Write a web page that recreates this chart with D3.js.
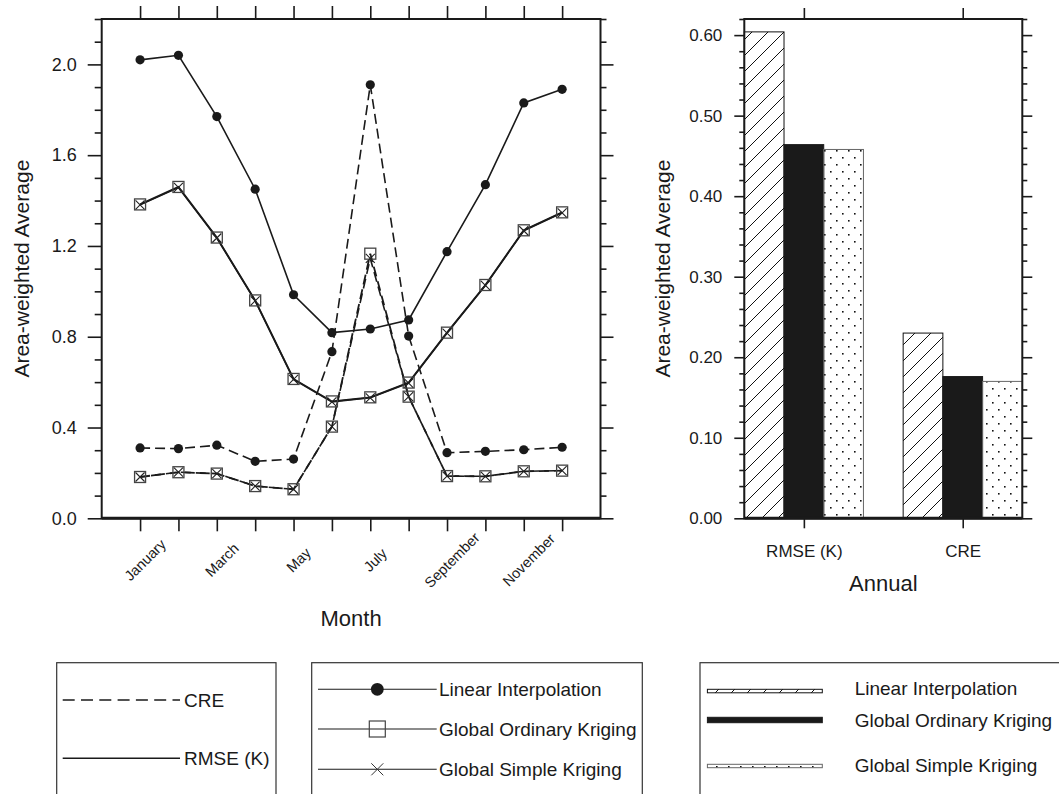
<!DOCTYPE html>
<html><head><meta charset="utf-8">
<script src="https://cdn.jsdelivr.net/npm/d3@7"></script>
<style>
body{margin:0;background:#fff}
text{font-family:"Liberation Sans",Arial,Helvetica,sans-serif;fill:#1a1a1a}
</style>
</head><body>
<svg id="c" width="1059" height="794"></svg>
<script>
// ---------- data ----------
const months = ["January","February","March","April","May","June","July","August","September","October","November","December"];
const liRMSE = [2.02, 2.04, 1.77, 1.45, 0.985, 0.818, 0.834, 0.874, 1.175, 1.47, 1.83, 1.89];
const okRMSE = [1.383, 1.46, 1.237, 0.96, 0.614, 0.515, 0.533, 0.598, 0.818, 1.028, 1.269, 1.348];
const skRMSE = [1.381, 1.458, 1.235, 0.958, 0.612, 0.513, 0.531, 0.596, 0.816, 1.026, 1.267, 1.346];
const liCRE  = [0.31, 0.307, 0.322, 0.251, 0.261, 0.734, 1.91, 0.803, 0.289, 0.295, 0.302, 0.313];
const okCRE  = [0.182, 0.203, 0.197, 0.142, 0.128, 0.404, 1.166, 0.536, 0.186, 0.185, 0.207, 0.21];
const skCRE  = [0.182, 0.203, 0.197, 0.142, 0.128, 0.404, 1.145, 0.536, 0.186, 0.185, 0.207, 0.21];
const leftTicks = [0, 0.4, 0.8, 1.2, 1.6, 2.0];

const barCategories = ["RMSE (K)", "CRE"];
const methods = ["Linear Interpolation", "Global Ordinary Kriging", "Global Simple Kriging"];
const annualRMSE = [0.604, 0.464, 0.458];
const annualCRE  = [0.230, 0.176, 0.170];
const rightTicks = [0, 0.1, 0.2, 0.3, 0.4, 0.5, 0.6];
const metricLegend = ["CRE", "RMSE (K)"];

// ---------- setup ----------
const svg = d3.select("#c");
const ink = "#1a1a1a";
const defs = svg.append("defs");
const hatch = defs.append("pattern").attr("id","hatch").attr("patternUnits","userSpaceOnUse")
  .attr("width",16).attr("height",16);
hatch.append("path").attr("d","M-4,4 L4,-4 M0,16 L16,0 M12,20 L20,12")
  .attr("stroke","#111").attr("stroke-width",1);
const dots = defs.append("pattern").attr("id","dots").attr("patternUnits","userSpaceOnUse")
  .attr("width",12).attr("height",14);
dots.append("rect").attr("x",2).attr("y",3).attr("width",1.6).attr("height",1.6).attr("fill","#111");
dots.append("rect").attr("x",8).attr("y",10).attr("width",1.6).attr("height",1.6).attr("fill","#111");

function styleAxis(g){
  g.select(".domain").remove();
  g.selectAll(".tick line").attr("stroke",ink).attr("stroke-width",1.6);
  g.selectAll(".tick text").attr("fill",ink).style("font-family",'"Liberation Sans",Arial,sans-serif');
}
function minorsOf(step, max, majorStep){
  const out=[];
  for(let i=1;i*step<=max+1e-9;i++){
    const v=+(i*step).toFixed(4);
    if(Math.abs(v/majorStep - Math.round(v/majorStep))>1e-6) out.push(v);
  }
  return out;
}

// ---------- left chart ----------
const L = {x0:101.7, x1:600.5, y0:19, y1:518.3};
const x = d3.scaleLinear().domain([0,13]).range([L.x0, L.x1]);
const y = d3.scaleLinear().domain([0,2.2]).range([L.y1, L.y0]);
const lg = svg.append("g");
const monthIdx = d3.range(1,13);

lg.append("g").attr("transform",`translate(${L.x0},0)`)
  .call(d3.axisLeft(y).tickValues(leftTicks).tickSize(14).tickPadding(11).tickFormat(d3.format(".1f")))
  .call(styleAxis).call(g=>g.selectAll(".tick text").attr("font-size",18));
lg.append("g").attr("transform",`translate(${L.x0},0)`)
  .call(d3.axisLeft(y).tickValues(minorsOf(0.1,2.2,0.4)).tickSize(7).tickFormat(""))
  .call(styleAxis);
lg.append("g").attr("transform",`translate(${L.x1},0)`)
  .call(d3.axisRight(y).tickValues(leftTicks).tickSize(13).tickFormat(""))
  .call(styleAxis);
lg.append("g").attr("transform",`translate(${L.x1},0)`)
  .call(d3.axisRight(y).tickValues(minorsOf(0.1,2.2,0.4)).tickSize(6).tickFormat(""))
  .call(styleAxis);
lg.append("g").attr("transform",`translate(0,${L.y0})`)
  .call(d3.axisTop(x).tickValues(monthIdx).tickSize(13).tickFormat(""))
  .call(styleAxis);
lg.append("g").attr("transform",`translate(0,${L.y1})`)
  .call(d3.axisBottom(x).tickValues(monthIdx).tickSize(13).tickFormat(""))
  .call(styleAxis);

// month labels (every other)
lg.selectAll("text.mon").data(monthIdx.filter(m=>m%2===1)).join("text")
  .attr("class","mon").attr("font-size",14.5).attr("text-anchor","middle").attr("dy","0.35em")
  .attr("transform",m=>`translate(${x(m)+5},560) rotate(-45)`)
  .text(m=>months[m-1]);

// frame
lg.append("rect").attr("x",L.x0).attr("y",L.y0).attr("width",L.x1-L.x0).attr("height",L.y1-L.y0)
  .attr("fill","none").attr("stroke",ink).attr("stroke-width",2);
lg.append("line").attr("x1",L.x0).attr("x2",L.x1).attr("y1",L.y1).attr("y2",L.y1)
  .attr("stroke",ink).attr("stroke-width",3);

// series
const line = d3.line().x((d,i)=>x(i+1)).y(d=>y(d));
const series = [
  {v:liRMSE, dash:null, w:1.6},
  {v:okRMSE, dash:null, w:1.8},
  {v:skRMSE, dash:null, w:1.6},
  {v:liCRE, dash:"10,5", w:1.6},
  {v:okCRE, dash:"10,5", w:1.8},
  {v:skCRE, dash:"10,5", w:1.6, off:4},
];
series.forEach(s=>{
  lg.append("path").attr("d",line(s.v)).attr("fill","none").attr("stroke",ink)
    .attr("stroke-width",s.w).attr("stroke-dasharray",s.dash).attr("stroke-dashoffset",s.off||0);
});
[liRMSE, liCRE].forEach(arr=>{
  lg.selectAll(null).data(arr).join("circle")
    .attr("cx",(d,i)=>x(i+1)).attr("cy",d=>y(d)).attr("r",4.6).attr("fill",ink);
});
[okRMSE, okCRE].forEach(arr=>{
  lg.selectAll(null).data(arr).join("rect")
    .attr("x",(d,i)=>x(i+1)-5.5).attr("y",d=>y(d)-5.5).attr("width",11).attr("height",11)
    .attr("fill","none").attr("stroke","#444").attr("stroke-width",1.3);
});
[skRMSE, skCRE].forEach(arr=>{
  lg.selectAll(null).data(arr).join("path")
    .attr("d",(d,i)=>{const cx=x(i+1), cy=y(d), h=4.5;
      return `M${cx-h},${cy-h}L${cx+h},${cy+h}M${cx-h},${cy+h}L${cx+h},${cy-h}`;})
    .attr("stroke","#222").attr("stroke-width",1.1).attr("fill","none");
});

// titles
lg.append("text").attr("font-size",21).attr("text-anchor","middle").attr("dy","0.35em")
  .attr("transform",`translate(22,${(L.y0+L.y1)/2}) rotate(-90)`).text("Area-weighted Average");
lg.append("text").attr("font-size",22).attr("text-anchor","middle")
  .attr("x",(L.x0+L.x1)/2).attr("y",626).text("Month");

// ---------- right chart ----------
const R = {x0:744.3, x1:1022.3, y0:19, y1:518.3};
const xb = d3.scaleLinear().domain([0.625,2.375]).range([R.x0,R.x1]);
const yb = d3.scaleLinear().domain([0,0.62]).range([R.y1,R.y0]);
const rg = svg.append("g");
const fills = ["url(#hatch)", ink, "url(#dots)"];
const strokes = ["#111", ink, "#666"];
const barData = [];
[annualRMSE, annualCRE].forEach((arr,gi)=>arr.forEach((v,k)=>barData.push({g:gi+1,k,v})));
rg.selectAll("rect.bar").data(barData).join("rect").attr("class","bar")
  .attr("x",d=>xb(d.g-0.375+0.25*d.k)).attr("width",xb(0.25)-xb(0))
  .attr("y",d=>yb(d.v)).attr("height",d=>yb(0)-yb(d.v))
  .attr("fill",d=>fills[d.k]).attr("stroke",d=>strokes[d.k]).attr("stroke-width",1);

rg.append("g").attr("transform",`translate(${R.x0},0)`)
  .call(d3.axisLeft(yb).tickValues(rightTicks).tickSize(10).tickPadding(12).tickFormat(d3.format(".2f")))
  .call(styleAxis).call(g=>g.selectAll(".tick text").attr("font-size",17));
rg.append("g").attr("transform",`translate(${R.x0},0)`)
  .call(d3.axisLeft(yb).tickValues(minorsOf(0.02,0.62,0.1)).tickSize(5).tickFormat(""))
  .call(styleAxis);
rg.append("g").attr("transform",`translate(${R.x1},0)`)
  .call(d3.axisRight(yb).tickValues(rightTicks).tickSize(10).tickFormat(""))
  .call(styleAxis);
rg.append("g").attr("transform",`translate(${R.x1},0)`)
  .call(d3.axisRight(yb).tickValues(minorsOf(0.02,0.62,0.1)).tickSize(5).tickFormat(""))
  .call(styleAxis);
rg.append("g").attr("transform",`translate(0,${R.y0})`)
  .call(d3.axisTop(xb).tickValues([1,2]).tickSize(11).tickFormat(""))
  .call(styleAxis);
rg.append("g").attr("transform",`translate(0,${R.y1})`)
  .call(d3.axisBottom(xb).tickValues([1,2]).tickSize(10).tickPadding(17).tickFormat((d,i)=>barCategories[i]))
  .call(styleAxis).call(g=>g.selectAll(".tick text").attr("font-size",17));

rg.append("rect").attr("x",R.x0).attr("y",R.y0).attr("width",R.x1-R.x0).attr("height",R.y1-R.y0)
  .attr("fill","none").attr("stroke",ink).attr("stroke-width",2);
rg.append("line").attr("x1",R.x0).attr("x2",R.x1).attr("y1",R.y1).attr("y2",R.y1)
  .attr("stroke",ink).attr("stroke-width",3);

rg.append("text").attr("font-size",21).attr("text-anchor","middle").attr("dy","0.35em")
  .attr("transform",`translate(663,${(R.y0+R.y1)/2}) rotate(-90)`).text("Area-weighted Average");
rg.append("text").attr("font-size",22).attr("text-anchor","middle")
  .attr("x",(R.x0+R.x1)/2).attr("y",591).text("Annual");

// ---------- legends ----------
const leg = svg.append("g");
const boxTop = 662.7;
[[56.7,276],[311.7,642.3],[700,1070]].forEach(b=>{
  leg.append("rect").attr("x",b[0]).attr("y",boxTop).attr("width",b[1]-b[0]).attr("height",160)
    .attr("fill","none").attr("stroke","#333").attr("stroke-width",1.2);
});
// legend 1
const l1y = [700, 758.3];
metricLegend.forEach((t,i)=>{
  leg.append("line").attr("x1",62.7).attr("x2",180).attr("y1",l1y[i]).attr("y2",l1y[i])
    .attr("stroke",ink).attr("stroke-width",1.4).attr("stroke-dasharray",i===0?"12,6.3":null);
  leg.append("text").attr("x",184).attr("y",l1y[i]).attr("dy","0.35em").attr("font-size",19).text(t);
});
// legend 2
const l2y = [689.3, 729, 769.3];
methods.forEach((t,i)=>{
  const yy=l2y[i];
  leg.append("line").attr("x1",318).attr("x2",436.7).attr("y1",yy).attr("y2",yy)
    .attr("stroke",ink).attr("stroke-width",1.1);
  if(i===0) leg.append("circle").attr("cx",377.3).attr("cy",yy).attr("r",6.4).attr("fill",ink);
  if(i===1) leg.append("rect").attr("x",369.3).attr("y",yy-8).attr("width",16).attr("height",16)
    .attr("fill","none").attr("stroke","#444").attr("stroke-width",1.2);
  if(i===2) leg.append("path").attr("d",`M371.3,${yy-6}L383.3,${yy+6}M371.3,${yy+6}L383.3,${yy-6}`)
    .attr("stroke","#333").attr("stroke-width",1);
  leg.append("text").attr("x",439).attr("y",yy).attr("dy","0.35em").attr("font-size",19).text(t);
});
// legend 3
const l3patch = [[689.3,692.8],[717.3,722.7],[764.3,767.7]];
const l3text = [688.3, 720, 765];
methods.forEach((t,i)=>{
  leg.append("rect").attr("x",707.4).attr("y",l3patch[i][0]).attr("width",822.3-707.4)
    .attr("height",l3patch[i][1]-l3patch[i][0]).attr("fill",fills[i]).attr("stroke",strokes[i]).attr("stroke-width",1);
  leg.append("text").attr("x",854.7).attr("y",l3text[i]).attr("dy","0.35em").attr("font-size",19).text(t);
});
</script>
</body></html>
